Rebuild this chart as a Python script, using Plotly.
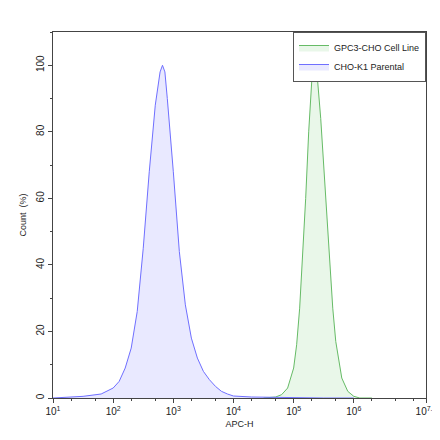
import plotly.graph_objects as go

# log10(APC-H) positions and counts (% of max)
parental_log = [1.0, 1.3, 1.5, 1.8, 2.0, 2.1, 2.2, 2.3, 2.4, 2.5, 2.6, 2.7, 2.78, 2.82, 2.86, 2.9, 2.95, 3.0, 3.1,
                3.2, 3.3, 3.4, 3.5, 3.6, 3.7, 3.8, 3.9, 4.0, 4.3, 4.6, 5.0, 5.5, 6.0]
parental_cnt = [0, 0.2, 0.5, 1.2, 3, 5, 9, 15, 26, 45, 68, 88, 98, 100, 98, 90, 80, 68, 44,
                28, 18, 12, 8, 5.5, 3.5, 2, 1.2, 0.6, 0.3, 0.2, 0.1, 0, 0]
gpc3_log = [4.5, 4.7, 4.8, 4.9, 5.0, 5.05, 5.1, 5.15, 5.2, 5.25, 5.3, 5.35, 5.4, 5.45, 5.5, 5.55, 5.6, 5.65,
            5.7, 5.8, 5.9, 6.0, 6.1, 6.3]
gpc3_cnt = [0, 0.3, 1, 3, 9, 16, 27, 42, 60, 80, 95, 100, 95, 84, 70, 54, 40, 27,
            17, 6, 2, 0.5, 0, 0]

tick_exp = [1, 2, 3, 4, 5, 6, 7.2]
tick_txt = ["10<sup>1</sup>", "10<sup>2</sup>", "10<sup>3</sup>", "10<sup>4</sup>",
            "10<sup>5</sup>", "10<sup>6</sup>", "10<sup>7.2</sup>"]

fig = go.Figure()
fig.add_trace(go.Scatter(
    x=[10 ** v for v in gpc3_log], y=gpc3_cnt, name="GPC3-CHO Cell Line",
    mode="lines", line=dict(color="#66bb66", width=1), fill="tozeroy",
    fillcolor="rgba(110,200,110,0.15)"))
fig.add_trace(go.Scatter(
    x=[10 ** v for v in parental_log], y=parental_cnt, name="CHO-K1 Parental",
    mode="lines", line=dict(color="#6f6fff", width=1), fill="tozeroy",
    fillcolor="rgba(110,110,255,0.15)"))

axis_font = dict(family="Arial, Liberation Sans", size=10, color="#222")
fig.update_layout(
    width=440, height=440,
    margin=dict(l=45, r=22, t=24, b=50),
    plot_bgcolor="white", paper_bgcolor="white",
    font=axis_font,
    legend=dict(x=1, y=1, xanchor="right", yanchor="top", bgcolor="white",
                bordercolor="#555", borderwidth=1, font=dict(size=9),
                itemwidth=30, tracegroupgap=0),
    xaxis=dict(type="log", range=[1, 7.2], tickvals=[10 ** e for e in tick_exp], ticktext=tick_txt,
               ticklabeloverflow="allow", automargin=False,
               showgrid=False, showline=True, linecolor="#444", mirror=True, ticks="outside",
               ticklen=4, minor=dict(ticks="outside", ticklen=2, showgrid=False),
               title=dict(text="APC-H", font=dict(size=9), standoff=4), zeroline=False),
    yaxis=dict(range=[0, 110], dtick=20, showgrid=False, showline=True, linecolor="#444", mirror=True,
               ticks="outside", ticklen=4, tickangle=-90, minor=dict(ticks="outside", ticklen=2, dtick=10),
               title=dict(text="Count  (%)", font=dict(size=9), standoff=6), zeroline=False),
)
fig.write_html("out.html")
